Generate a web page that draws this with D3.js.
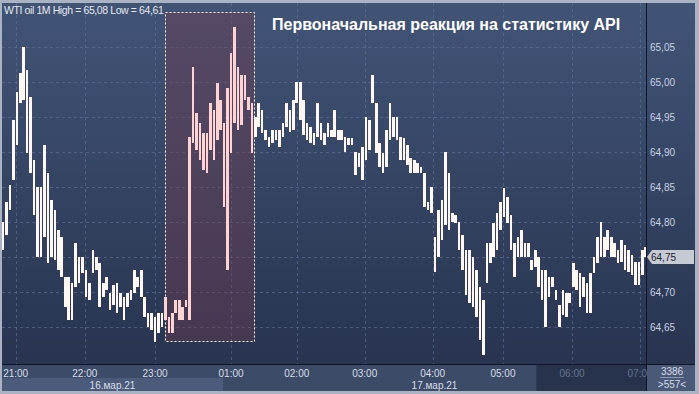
<!DOCTYPE html>
<html>
<head>
<meta charset="utf-8">
<script src="https://cdn.jsdelivr.net/npm/d3@7"></script>
<style>
  body { margin: 0; background: #a9b3c4; }
  svg { display: block; font-family: "Liberation Sans", Arial, sans-serif; }
</style>
</head>
<body>
<svg width="699" height="394"></svg>
<script>
// 3-minute bars (high / low), starting 20:49 MSK
var hi = [
  64.800,64.828,64.853,64.946,64.986,65.013,65.050,65.017,64.979,64.889,
  64.850,64.850,64.910,64.870,64.831,64.817,64.788,64.778,64.721,64.721,
  64.713,64.770,64.750,64.750,64.731,64.713,64.760,64.750,64.741,64.713,
  64.721,64.698,64.710,64.713,64.698,64.693,64.698,64.703,64.731,64.721,
  64.731,64.693,64.670,64.670,64.664,64.670,64.670,64.693,64.664,64.670,
  64.689,64.689,64.678,64.689,64.921,65.021,64.956,64.941,64.927,64.927,
  64.970,64.960,64.998,64.974,64.941,64.991,65.041,65.078,65.021,65.010,
  65.010,64.979,64.970,64.950,64.970,64.960,64.931,64.921,64.931,64.931,
  64.931,64.941,64.970,64.960,64.974,65.000,65.000,64.974,64.941,64.936,
  64.927,64.970,64.941,64.927,64.941,64.931,64.960,64.931,64.931,64.921,
  64.920,64.920,64.900,64.898,64.907,64.950,64.946,65.010,64.970,64.913,
  64.898,64.931,64.970,64.950,64.950,64.921,64.920,64.910,64.891,64.888,
  64.884,64.878,64.870,64.828,64.850,64.778,64.817,64.831,64.900,64.870,
  64.813,64.810,64.800,64.781,64.760,64.760,64.750,64.731,64.707,64.689,
  64.770,64.770,64.798,64.813,64.828,64.848,64.836,64.810,64.770,64.778,
  64.788,64.770,64.770,64.746,64.760,64.750,64.731,64.731,64.721,64.721,
  64.703,64.681,64.703,64.698,64.698,64.741,64.731,64.727,64.721,64.713,
  64.727,64.750,64.778,64.800,64.778,64.788,64.778,64.770,64.760,64.774,
  64.767,64.760,64.753,64.743,64.743,64.760,64.764
];
var lo = [
  64.760,64.781,64.817,64.860,64.910,64.970,64.974,64.898,64.870,64.810,
  64.750,64.750,64.778,64.741,64.750,64.746,64.731,64.721,64.678,64.660,
  64.660,64.707,64.713,64.727,64.693,64.689,64.727,64.731,64.678,64.693,
  64.703,64.674,64.681,64.670,64.678,64.660,64.678,64.689,64.698,64.707,
  64.693,64.664,64.650,64.646,64.628,64.641,64.650,64.660,64.641,64.641,
  64.670,64.660,64.660,64.678,64.660,64.913,64.903,64.888,64.874,64.870,
  64.903,64.888,64.917,64.931,64.821,64.731,64.898,64.941,64.931,64.938,
  64.974,64.960,64.898,64.921,64.936,64.927,64.917,64.907,64.913,64.917,
  64.907,64.921,64.936,64.928,64.931,64.970,64.946,64.924,64.917,64.913,
  64.910,64.921,64.917,64.910,64.921,64.921,64.921,64.917,64.917,64.900,
  64.910,64.910,64.867,64.878,64.860,64.888,64.903,64.970,64.898,64.878,
  64.870,64.878,64.917,64.921,64.917,64.888,64.888,64.881,64.870,64.870,
  64.870,64.870,64.821,64.817,64.813,64.729,64.750,64.774,64.796,64.788,
  64.800,64.798,64.760,64.731,64.696,64.684,64.678,64.664,64.631,64.610,
  64.713,64.741,64.750,64.760,64.788,64.807,64.798,64.760,64.721,64.750,
  64.750,64.750,64.750,64.731,64.736,64.707,64.689,64.650,64.693,64.707,
  64.689,64.650,64.667,64.664,64.684,64.707,64.703,64.678,64.693,64.670,
  64.670,64.727,64.741,64.750,64.750,64.760,64.750,64.750,64.741,64.743,
  64.731,64.728,64.724,64.710,64.710,64.724,64.750
];
var barMinutes = 3;

// time axis (minutes since 20:49, break removed)
var timeLabels = ["21:00","22:00","23:00","01:00","02:00","03:00","04:00","05:00","06:00","07:00"];
var timeTicks  = [11, 71, 132, 198, 255, 314, 373, 434, 494, 553];
var dayLabels  = ["16.мар.21", "17.мар.21"];
var dayBreak   = 191;
var shadeStart = 463;

var priceTicks = [64.65, 64.70, 64.75, 64.80, 64.85, 64.90, 64.95, 65.00, 65.05];
var lastPrice  = 64.75;

// API release window
var apiFrom = 141, apiTo = 218;
var apiTop = 65.10, apiBottom = 64.63;

var title = "Первоначальная реакция на статистику API";
var info  = "WTI oil 1M High = 65,08 Low = 64,61";
var barCount = "3386", visCount = ">557<";

var svg = d3.select("svg"),
    width = +svg.attr("width"),
    height = +svg.attr("height");

var plotL = 2, plotR = 646, plotT = 3, plotB = 364;

var x = d3.scaleLinear().domain([0, 560]).range([3, 648.1]);
var y = d3.scaleLinear().domain([64.60, 65.10]).range([362, 12]);
var fmt = function(v) { return d3.format(".2f")(v).replace(".", ","); };

var defs = svg.append("defs");
var grad = defs.append("linearGradient")
    .attr("id", "bg").attr("x1", 0).attr("y1", 0).attr("x2", 0).attr("y2", 1);
grad.append("stop").attr("offset", "0%").attr("stop-color", "#425476");
grad.append("stop").attr("offset", "100%").attr("stop-color", "#283450");

// frame + backgrounds
svg.append("rect").attr("width", width).attr("height", height).attr("fill", "#a9b3c4");
svg.append("rect")
    .attr("x", plotL).attr("y", plotT)
    .attr("width", 695 - plotL).attr("height", plotB - plotT)
    .attr("fill", "url(#bg)");

// bottom axis strip
var axisG = svg.append("g");
axisG.append("rect")
    .attr("x", plotL).attr("y", plotB).attr("width", plotR - plotL).attr("height", 27)
    .attr("fill", "#3c4b67");
axisG.append("rect")
    .attr("x", plotL).attr("y", 378).attr("width", x(dayBreak) - plotL).attr("height", 13)
    .attr("fill", "#4b5b79");
axisG.append("rect")
    .attr("x", x(shadeStart)).attr("y", plotB).attr("width", plotR - x(shadeStart)).attr("height", 27)
    .attr("fill", "#27334d");
axisG.append("rect")
    .attr("x", plotR).attr("y", plotB).attr("width", 695 - plotR).attr("height", 27)
    .attr("fill", "#4a5977");

// grid
var grid = svg.append("g")
    .attr("stroke", "#62739a")
    .attr("stroke-opacity", 0.6)
    .attr("stroke-dasharray", "3,3");
grid.selectAll("line.h")
    .data(priceTicks)
    .enter().append("line")
      .attr("x1", plotL).attr("x2", plotR)
      .attr("y1", function(d) { return Math.round(y(d)) + 0.5; })
      .attr("y2", function(d) { return Math.round(y(d)) + 0.5; });
grid.selectAll("line.v")
    .data(timeTicks)
    .enter().append("line")
      .attr("x1", function(d) { return Math.round(x(d)) + 0.5; })
      .attr("x2", function(d) { return Math.round(x(d)) + 0.5; })
      .attr("y1", plotT).attr("y2", plotB);

// highlight window
svg.append("rect")
    .attr("x", Math.round(x(apiFrom)) + 0.5)
    .attr("y", Math.round(y(apiTop)) + 0.5)
    .attr("width", Math.round(x(apiTo) - x(apiFrom)))
    .attr("height", Math.round(y(apiBottom) - y(apiTop)))
    .attr("fill", "rgb(116,60,80)")
    .attr("fill-opacity", 0.4)
    .attr("stroke", "#ffffff")
    .attr("stroke-width", 1)
    .attr("stroke-dasharray", "2,2");

// bars
var bars = hi.map(function(h, i) { return { t: i * barMinutes, hi: h, lo: lo[i] }; });
svg.append("g")
    .attr("shape-rendering", "crispEdges")
  .selectAll("rect")
  .data(bars)
  .enter().append("rect")
    .attr("x", function(d) { return x(d.t) - 1.3; })
    .attr("width", 2.6)
    .attr("y", function(d) { return y(d.hi); })
    .attr("height", function(d) { return Math.max(1, y(d.lo) - y(d.hi)); })
    .attr("fill", function(d) {
      return (d.t >= apiFrom && d.t <= apiTo) ? "#ffd3d3" : "#fff7f2";
    });

// separators
svg.append("line")
    .attr("x1", plotL).attr("x2", 695).attr("y1", plotB + 0.5).attr("y2", plotB + 0.5)
    .attr("stroke", "#0e1628");
svg.append("line")
    .attr("x1", plotR + 0.5).attr("x2", plotR + 0.5).attr("y1", plotT).attr("y2", 391)
    .attr("stroke", "#0e1628");

// time labels
svg.append("g")
    .attr("font-size", 10)
    .attr("text-anchor", "middle")
  .selectAll("text")
  .data(timeTicks)
  .enter().append("text")
    .attr("x", function(d) { return x(d); })
    .attr("y", 377)
    .attr("fill", function(d) { return d >= shadeStart ? "#65738e" : "#d7deea"; })
    .text(function(d, i) { return timeLabels[i]; });

// clip label sticking into the price panel
svg.append("rect")
    .attr("x", plotR + 1).attr("y", plotB + 1).attr("width", 695 - plotR - 1).attr("height", 26)
    .attr("fill", "#4a5977");

svg.append("g")
    .attr("font-size", 10)
    .attr("text-anchor", "middle")
    .attr("fill", "#d7deea")
  .selectAll("text")
  .data(dayLabels)
  .enter().append("text")
    .attr("x", function(d, i) { return i == 0 ? (plotL + x(dayBreak)) / 2 : (x(dayBreak) + plotR) / 2; })
    .attr("y", 389)
    .text(function(d) { return d; });

// price labels
svg.append("g")
    .attr("font-size", 10)
    .attr("fill", "#c9d2e2")
  .selectAll("text")
  .data(priceTicks.filter(function(d) { return d != lastPrice; }))
  .enter().append("text")
    .attr("x", 650)
    .attr("y", function(d) { return y(d); })
    .attr("dy", "0.35em")
    .text(fmt);

var ly = y(lastPrice);
svg.append("path")
    .attr("d", "M" + (plotR + 1) + "," + ly + "L" + (plotR + 6) + "," + (ly - 7) +
               "H694V" + (ly + 7) + "H" + (plotR + 6) + "Z")
    .attr("fill", "#c6cad3");
svg.append("text")
    .attr("x", 651).attr("y", ly).attr("dy", "0.35em")
    .attr("font-size", 10).attr("fill", "#1c2233")
    .text(fmt(lastPrice));

// counters
svg.append("text")
    .attr("x", 672).attr("y", 375).attr("text-anchor", "middle")
    .attr("font-size", 10).attr("fill", "#d7deea").text(barCount);
svg.append("line")
    .attr("x1", 660).attr("x2", 684).attr("y1", 377.5).attr("y2", 377.5)
    .attr("stroke", "#8d9ab2");
svg.append("text")
    .attr("x", 672).attr("y", 388).attr("text-anchor", "middle")
    .attr("font-size", 10).attr("fill", "#d7deea").text(visCount);

// texts
svg.append("text")
    .attr("x", 4).attr("y", 14)
    .attr("font-size", 10.5).attr("fill", "#e4e8f0")
    .attr("letter-spacing", "-0.4")
    .text(info);
svg.append("text")
    .attr("x", 272).attr("y", 30)
    .attr("font-size", 16).attr("font-weight", "bold").attr("fill", "#ffffff")
    .text(title);
</script>
</body>
</html>
